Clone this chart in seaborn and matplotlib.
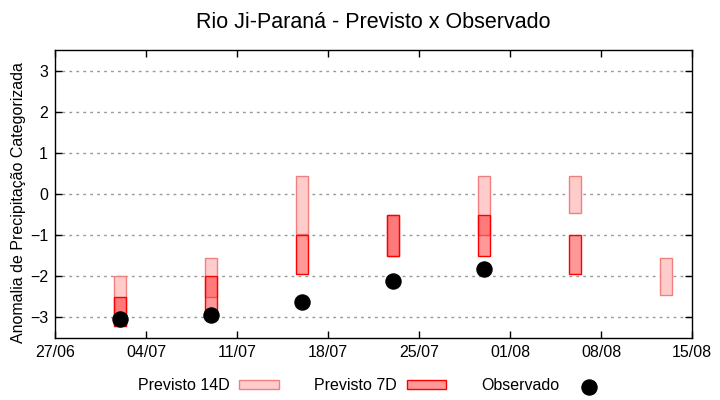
import pandas as pd
import numpy as np
import matplotlib
matplotlib.use("Agg")
import matplotlib.pyplot as plt
import matplotlib.dates as mdates
import seaborn as sns

# -----------------------------
# Data
# -----------------------------
dates = ["2024-07-02", "2024-07-09", "2024-07-16", "2024-07-23",
         "2024-07-30", "2024-08-06", "2024-08-13"]
prev14_low = [-3.2, -2.5, -0.97, -1.5, -1.0, -0.45, -2.45]
prev14_high = [-2.0, -1.55, 0.43, -0.5, 0.43, 0.43, -1.55]
prev7_low = [-3.2, -3.0, -1.95, -1.5, -1.5, -1.95, np.nan]
prev7_high = [-2.5, -2.0, -1.0, -0.5, -0.5, -1.0, np.nan]
observado = [-3.05, -2.93, -2.63, -2.12, -1.82, np.nan, np.nan]

xticks = pd.date_range("2024-06-27", "2024-08-15", freq="7D")

df = pd.DataFrame({
    "Data": pd.to_datetime(dates),
    "p14_low": prev14_low, "p14_high": prev14_high,
    "p7_low": prev7_low, "p7_high": prev7_high,
    "Observado": observado,
})

# -----------------------------
# Style
# -----------------------------
sns.set_style("ticks")
plt.rcParams["font.family"] = ["Liberation Sans", "DejaVu Sans"]
plt.rcParams["xtick.direction"] = "in"
plt.rcParams["ytick.direction"] = "in"
plt.rcParams["text.color"] = "black"
plt.rcParams["axes.labelcolor"] = "black"

fig = plt.figure(figsize=(7.2, 4.0), dpi=100)
ax = fig.add_axes([55 / 720, 1 - 338 / 400, (692 - 55) / 720, (338 - 50) / 400])

# floating bars
ax.bar(df["Data"], df["p14_high"] - df["p14_low"], bottom=df["p14_low"], width=0.95,
       color="#ffcccc", edgecolor="#f08080", linewidth=1.0, label="Previsto 14D", zorder=2)
ax.bar(df["Data"], df["p7_high"] - df["p7_low"], bottom=df["p7_low"], width=0.95,
       color=(1, 0, 0, 0.4), edgecolor="red", linewidth=1.0, label="Previsto 7D", zorder=3)

sns.scatterplot(data=df, x="Data", y="Observado", color="black", s=120,
                edgecolor="black", label="Observado", zorder=4, ax=ax)

# axes
ax.set_xlim(xticks[0], xticks[-1])
ax.set_ylim(-3.5, 3.5)
ax.set_yticks(range(-3, 4))
ax.set_xticks(xticks)
ax.xaxis.set_major_formatter(mdates.DateFormatter("%d/%m"))
ax.tick_params(labelsize=11.5, length=5, width=1, top=True, right=True,
               colors="black", labelcolor="black", pad=5)
ax.yaxis.grid(True, linestyle=(0, (2, 3)), color="#999999", linewidth=1)
ax.set_axisbelow(True)
for s in ax.spines.values():
    s.set_linewidth(1.0)
    s.set_color("black")

ax.set_xlabel("")
ax.set_ylabel("Anomalia de Precipitação Categorizada", fontsize=11.5)
ax.yaxis.set_label_coords(-0.045, 0.472)
ax.set_title("Rio Ji-Paraná - Previsto x Observado", fontsize=15.5, pad=16, color="black")

handles, labels = ax.get_legend_handles_labels()
order = [labels.index(l) for l in ["Previsto 14D", "Previsto 7D", "Observado"]]
ax.legend([handles[i] for i in order], [labels[i] for i in order],
          loc="center", bbox_to_anchor=(0.5, -0.165), ncol=3, frameon=False,
          markerfirst=False, fontsize=11.5, handlelength=2.5, handleheight=0.45,
          columnspacing=2.2, handletextpad=0.6)

plt.savefig("out.png", dpi=100)
